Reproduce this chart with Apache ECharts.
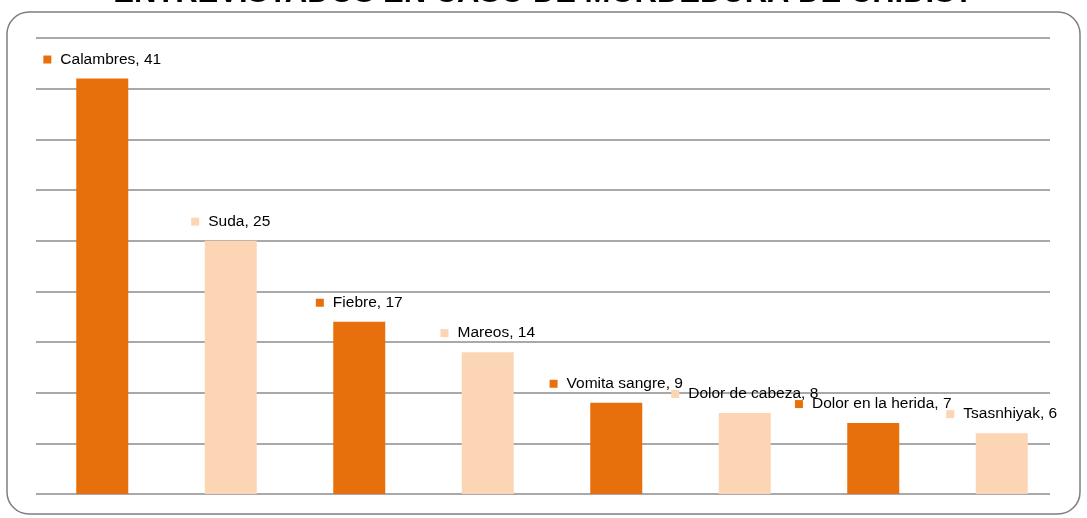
<!DOCTYPE html>
<html>
<head>
<meta charset="utf-8">
<script src="https://cdn.jsdelivr.net/npm/echarts@6/dist/echarts.min.js"></script>
<style>
  html, body { margin: 0; padding: 0; background: #ffffff; }
  #chart { width: 1087px; height: 518px; }
</style>
</head>
<body>
<div id="chart"></div>
<script>
// Symptoms reported by interviewees
const chartTitle = 'ENTREVISTADOS EN CASO DE MORDEDURA DE CHIDIS?';
const categories = ['Calambres', 'Suda', 'Fiebre', 'Mareos', 'Vomita sangre', 'Dolor de cabeza', 'Dolor en la herida', 'Tsasnhiyak'];
const counts = [41, 25, 17, 14, 9, 8, 7, 6];
const barColors = ['#E8700C', '#FCD5B4'];
const yMax = 45;
const yStep = 5;

const chart = echarts.init(document.getElementById('chart'), null, { renderer: 'canvas' });

const fontFamily = 'Liberation Sans, Arial, sans-serif';

chart.setOption({
  animation: false,
  backgroundColor: '#ffffff',
  title: {
    text: chartTitle,
    left: 'center',
    top: -27,
    textStyle: { fontFamily: fontFamily, fontSize: 31, fontWeight: 'bold', color: '#000000' }
  },
  graphic: [{
    type: 'rect',
    z: -10,
    shape: { x: 7, y: 12, width: 1073, height: 502, r: 22 },
    style: { fill: '#ffffff', stroke: '#7f7f7f', lineWidth: 1.5 }
  }],
  grid: [
    { left: 38, right: 21, top: 38, bottom: 24 },
    { left: 36, right: 37, top: 38, bottom: 24 }
  ],
  xAxis: [
    {
      type: 'category', data: categories, gridIndex: 0,
      axisLine: { show: false }, axisTick: { show: false }, axisLabel: { show: false }
    },
    {
      type: 'value', gridIndex: 1, show: false, min: 0, max: 1
    }
  ],
  yAxis: [
    {
      type: 'value', gridIndex: 0, min: 0, max: yMax, interval: yStep,
      axisLine: { show: false }, axisTick: { show: false }, axisLabel: { show: false },
      splitLine: { show: false }
    },
    {
      type: 'value', gridIndex: 1, min: 0, max: yMax, interval: yStep,
      axisLine: { show: false }, axisTick: { show: false }, axisLabel: { show: false },
      splitLine: { show: true, lineStyle: { color: '#8c8c8c', width: 1.5 } }
    }
  ],
  series: [{
    type: 'bar',
    xAxisIndex: 0,
    yAxisIndex: 0,
    barWidth: 52,
    z: 3,
    data: counts.map((v, i) => ({
      value: v,
      itemStyle: { color: barColors[i % 2] },
      label: {
        rich: {
          sq: { width: 8, height: 8, backgroundColor: barColors[i % 2] },
          t: { fontFamily: fontFamily, fontSize: 15.5, color: '#000000', padding: [0, 0, 0, 9] }
        }
      }
    })),
    label: {
      show: true,
      position: 'top',
      distance: 11,
      formatter: p => '{sq|}{t|' + categories[p.dataIndex] + ', ' + p.value + '}'
    }
  }]
});
</script>
</body>
</html>
